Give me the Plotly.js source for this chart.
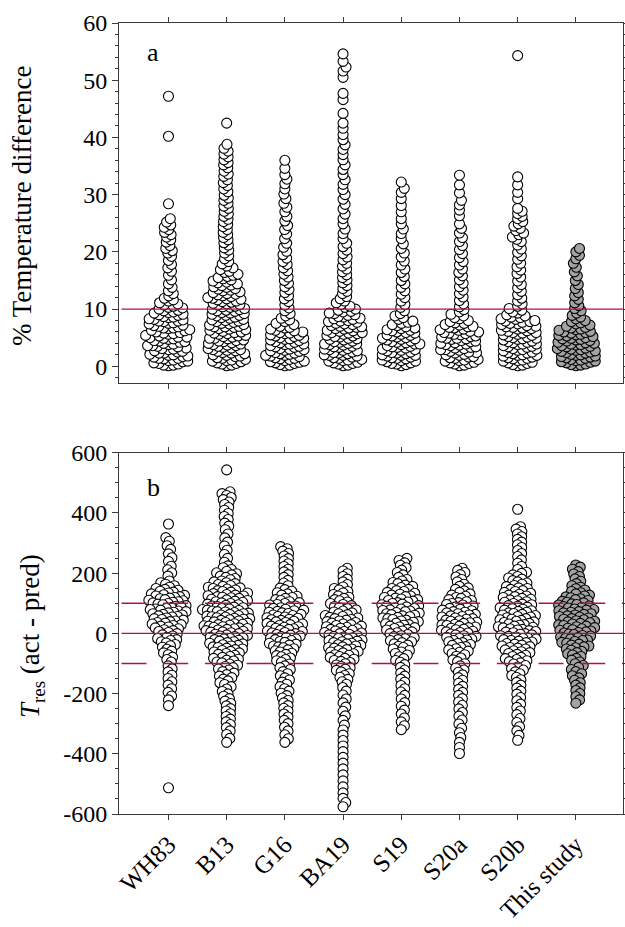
<!DOCTYPE html>
<html>
<head>
<meta charset="utf-8">
<script src="https://cdn.plot.ly/plotly-3.0.1.min.js"></script>
<style>html,body{margin:0;padding:0;background:#fff;}#chart{width:625px;height:927px;}</style>
</head>
<body>
<div id="chart"></div>
<script>
const categories = ["WH83","B13","G16","BA19","S19","S20a","S20b","This study"];

// Panel a: % temperature difference
const pct_WH83 = [0.1,0.2,0.2,0.4,0.5,0.6,0.8,0.9,1.0,1.1,1.3,1.4,1.4,1.6,1.7,1.8,1.9,2.0,2.1,2.3,2.3,2.5,2.6,2.7,2.9,3.0,3.1,3.2,3.4,3.5,3.6,3.6,3.8,3.9,4.0,4.2,4.3,4.4,4.5,4.7,4.8,4.9,5.0,5.1,5.1,5.3,5.4,5.6,5.7,5.8,5.9,6.0,6.2,6.3,6.4,6.6,6.7,6.7,6.9,7.0,7.1,7.2,7.4,7.5,7.6,7.8,7.9,7.9,8.1,8.2,8.3,8.5,8.6,8.7,8.9,9.0,9.1,9.3,9.4,9.5,9.7,9.8,10.0,10.2,10.3,10.5,10.7,10.9,11.1,11.4,11.6,11.9,12.3,12.7,13.2,13.8,14.4,15.1,15.9,16.6,17.2,17.8,18.5,19.2,19.8,20.2,20.6,21.1,21.7,22.1,22.6,23.0,23.4,23.9,24.3,24.7,25.2,25.8,28.4,40.2,47.2];
const pct_B13 = [0.1,0.2,0.4,0.5,0.6,0.8,0.9,1.0,1.1,1.2,1.4,1.5,1.7,1.8,1.9,2.0,2.2,2.3,2.4,2.6,2.7,2.8,2.9,2.9,3.1,3.2,3.3,3.5,3.6,3.7,3.8,3.9,4.0,4.1,4.3,4.4,4.5,4.6,4.8,4.9,4.9,5.1,5.2,5.3,5.4,5.6,5.7,5.8,5.9,6.0,6.1,6.3,6.4,6.5,6.6,6.8,6.9,6.9,7.0,7.2,7.3,7.4,7.5,7.7,7.8,7.9,8.0,8.1,8.2,8.4,8.5,8.6,8.8,8.9,8.9,9.1,9.2,9.3,9.4,9.6,9.7,9.8,9.9,10.0,10.1,10.3,10.4,10.5,10.7,10.8,10.9,11.0,11.2,11.3,11.4,11.6,11.7,11.8,11.9,12.0,12.2,12.3,12.5,12.6,12.7,12.9,13.0,13.2,13.3,13.5,13.6,13.8,13.9,14.1,14.2,14.4,14.6,14.7,14.9,15.1,15.3,15.5,15.7,15.9,16.1,16.4,16.6,16.9,17.2,17.5,17.9,18.3,18.8,19.3,19.8,20.3,20.7,21.2,21.6,22.1,22.5,23.0,23.4,23.9,24.4,24.8,25.3,25.7,26.2,26.6,27.1,27.6,28.0,28.5,29.0,29.4,29.9,30.5,31.0,31.6,32.1,32.6,33.2,33.6,34.1,34.7,35.2,35.6,36.1,36.6,37.1,37.6,38.1,38.8,42.5];
const pct_G16 = [0.1,0.2,0.3,0.5,0.6,0.7,0.8,0.9,1.0,1.2,1.3,1.4,1.5,1.7,1.8,1.9,1.9,2.1,2.2,2.3,2.4,2.6,2.7,2.8,2.9,3.0,3.1,3.3,3.4,3.5,3.6,3.8,3.9,3.9,4.1,4.2,4.3,4.5,4.6,4.7,4.8,4.9,5.0,5.2,5.3,5.4,5.5,5.7,5.8,5.9,6.0,6.2,6.3,6.5,6.7,6.8,7.0,7.3,7.5,7.8,8.1,8.4,8.8,9.2,9.7,10.2,10.7,11.3,11.8,12.3,12.9,13.4,13.9,14.5,15.0,15.6,16.1,16.7,17.2,17.8,18.3,18.9,19.5,20.1,20.8,21.5,22.3,23.1,23.9,24.6,25.4,26.2,27.0,27.8,28.5,29.3,30.1,31.0,31.9,32.7,33.5,34.6,36.0];
const pct_BA19 = [0.1,0.2,0.4,0.5,0.6,0.7,0.9,1.0,1.1,1.2,1.4,1.5,1.6,1.8,1.9,1.9,2.0,2.2,2.3,2.4,2.5,2.7,2.8,2.9,3.0,3.1,3.3,3.4,3.5,3.7,3.8,3.9,3.9,4.0,4.2,4.3,4.4,4.6,4.7,4.8,4.9,5.1,5.2,5.3,5.4,5.6,5.7,5.8,5.9,5.9,6.1,6.2,6.3,6.5,6.6,6.7,6.8,6.9,7.0,7.1,7.3,7.4,7.5,7.7,7.8,7.9,8.0,8.2,8.3,8.4,8.6,8.7,8.9,9.0,9.2,9.3,9.5,9.6,9.8,10.0,10.3,10.5,10.8,11.1,11.4,11.8,12.2,12.7,13.1,13.6,14.1,14.6,15.1,15.5,16.0,16.5,17.0,17.5,18.0,18.6,19.1,19.7,20.3,20.9,21.5,22.3,23.2,24.0,24.9,25.8,26.6,27.5,28.3,29.2,30.0,30.9,31.8,32.6,33.5,34.4,35.2,36.1,37.0,37.9,38.7,39.6,40.5,41.6,42.5,44.2,46.6,47.7,50.5,51.6,52.3,53.3,54.6];
const pct_S19 = [0.1,0.3,0.4,0.5,0.6,0.8,0.9,1.0,1.1,1.3,1.4,1.5,1.6,1.8,1.9,1.9,2.0,2.2,2.3,2.4,2.5,2.7,2.8,2.9,3.0,3.2,3.3,3.4,3.5,3.6,3.8,3.9,3.9,4.1,4.2,4.3,4.4,4.6,4.7,4.8,4.9,5.0,5.1,5.3,5.4,5.5,5.6,5.8,5.9,6.0,6.2,6.3,6.4,6.6,6.7,6.9,7.1,7.3,7.5,7.7,7.9,8.2,8.5,8.8,9.2,9.7,10.3,10.8,11.4,12.0,12.6,13.2,13.8,14.4,15.0,15.7,16.4,17.0,17.7,18.4,19.1,19.8,20.6,21.4,22.3,23.2,24.0,24.9,25.8,27.0,28.1,29.3,30.4,31.1,32.2];
const pct_S20a = [0.1,0.2,0.4,0.5,0.6,0.7,0.9,1.0,1.1,1.2,1.4,1.5,1.6,1.7,1.9,2.0,2.1,2.3,2.4,2.5,2.6,2.8,2.9,2.9,3.1,3.2,3.3,3.4,3.6,3.7,3.8,3.9,4.0,4.1,4.3,4.4,4.5,4.7,4.8,4.9,4.9,5.1,5.2,5.3,5.5,5.6,5.7,5.8,5.9,6.0,6.1,6.3,6.4,6.5,6.7,6.8,6.9,7.0,7.2,7.3,7.5,7.6,7.8,8.0,8.3,8.5,8.8,9.1,9.5,9.9,10.4,10.9,11.5,12.1,12.7,13.3,13.9,14.5,15.1,15.8,16.4,17.0,17.7,18.3,19.0,19.7,20.4,21.1,21.8,22.5,23.3,24.1,24.9,26.3,27.3,28.2,29.0,30.3,31.7,33.4];
const pct_S20b = [0.1,0.2,0.3,0.5,0.6,0.7,0.9,1.0,1.1,1.3,1.4,1.5,1.6,1.8,1.9,1.9,2.0,2.2,2.3,2.4,2.5,2.7,2.8,2.9,3.0,3.1,3.3,3.4,3.5,3.6,3.8,3.9,3.9,4.1,4.2,4.3,4.4,4.6,4.7,4.8,4.9,5.0,5.1,5.2,5.4,5.5,5.6,5.8,5.9,5.9,6.1,6.2,6.3,6.5,6.6,6.7,6.8,6.9,7.0,7.1,7.3,7.4,7.5,7.7,7.8,7.9,8.0,8.2,8.3,8.5,8.6,8.8,9.0,9.3,9.5,9.8,10.1,10.5,10.9,11.4,11.9,12.5,13.1,13.7,14.3,14.9,15.6,16.2,16.8,17.4,18.0,18.7,19.3,19.9,20.5,21.2,21.8,22.2,22.6,23.0,23.3,23.7,24.1,24.5,24.9,25.3,25.8,26.2,26.7,27.1,27.6,29.3,30.4,31.7,33.1,54.3];
const pct_This = [0.1,0.2,0.3,0.4,0.6,0.7,0.8,0.9,1.0,1.1,1.2,1.4,1.5,1.6,1.7,1.8,1.9,2.0,2.1,2.3,2.4,2.5,2.6,2.7,2.8,2.9,3.0,3.1,3.2,3.4,3.5,3.6,3.7,3.8,3.9,4.0,4.1,4.2,4.4,4.5,4.6,4.7,4.8,4.9,5.0,5.2,5.3,5.4,5.5,5.6,5.8,5.9,6.0,6.1,6.3,6.4,6.5,6.7,6.8,7.0,7.2,7.4,7.6,7.8,8.0,8.3,8.6,8.9,9.3,9.7,10.1,10.6,11.1,11.7,12.3,12.9,13.6,14.3,15.0,15.8,16.5,17.3,18.0,18.8,19.4,20.0,20.6];

// Panel b: T_res (act - pred)
const tres_WH83 = [363,318,306,291,279,264,251,239,223,211,201,190,174,168,163,158,153,149,146,143,140,137,134,131,128,126,124,122,119,117,115,112,110,108,105,103,101,99,97,95,92,90,88,86,83,81,79,77,74,72,70,68,65,63,61,58,56,54,51,49,46,44,41,39,36,34,31,29,26,24,21,18,15,12,9,6,3,-1,-5,-9,-13,-17,-21,-24,-28,-32,-37,-41,-46,-53,-59,-65,-71,-79,-87,-95,-108,-118,-128,-139,-150,-161,-172,-184,-196,-208,-221,-240,-513];
const tres_B13 = [543,470,464,458,451,444,436,428,418,409,398,388,378,366,356,344,330,317,303,290,276,262,249,236,224,218,212,206,201,198,194,190,186,182,178,174,171,168,165,162,159,156,153,151,149,147,144,142,139,137,134,132,129,127,125,124,122,120,118,116,113,111,109,107,105,103,101,99,97,95,93,91,89,87,85,83,81,79,77,76,74,72,71,69,67,65,63,61,59,57,55,54,52,50,49,47,45,43,41,40,38,36,34,32,30,29,27,25,24,22,20,18,16,15,13,11,9,7,5,4,2,-1,-3,-5,-7,-9,-11,-13,-15,-17,-19,-21,-23,-26,-28,-31,-33,-35,-38,-40,-42,-45,-47,-49,-52,-54,-57,-60,-62,-65,-67,-70,-73,-77,-80,-83,-86,-89,-92,-95,-98,-102,-106,-110,-114,-118,-122,-127,-132,-137,-142,-147,-152,-158,-164,-170,-177,-185,-193,-201,-209,-217,-225,-233,-241,-250,-258,-267,-276,-285,-294,-303,-313,-324,-336,-349,-362];
const tres_G16 = [288,281,273,265,257,248,240,231,222,213,204,195,186,176,167,158,150,145,140,135,131,127,123,119,116,112,109,105,102,99,96,94,91,88,85,83,80,77,75,73,70,68,66,63,61,59,56,54,52,50,47,45,43,40,38,36,33,31,29,27,24,22,20,17,15,13,10,8,6,3,1,-1,-4,-6,-9,-11,-14,-16,-19,-21,-24,-27,-30,-33,-36,-39,-42,-45,-48,-51,-55,-58,-62,-66,-70,-74,-78,-82,-87,-91,-96,-102,-108,-114,-120,-127,-134,-141,-148,-155,-162,-169,-177,-184,-192,-199,-207,-215,-223,-231,-240,-249,-258,-268,-278,-289,-300,-312,-324,-337,-350,-362];
const tres_BA19 = [216,207,198,189,180,171,162,154,149,144,139,134,129,124,120,116,112,108,104,99,96,92,89,85,82,78,74,71,68,65,62,59,56,53,51,49,46,44,41,39,36,34,31,29,26,24,22,20,17,15,13,10,8,6,3,1,-1,-3,-5,-8,-10,-12,-15,-17,-19,-22,-24,-26,-28,-31,-33,-35,-38,-40,-42,-45,-47,-49,-52,-54,-57,-60,-62,-65,-68,-71,-73,-77,-80,-83,-86,-90,-93,-97,-101,-105,-110,-114,-119,-123,-128,-134,-140,-146,-153,-161,-169,-180,-192,-205,-218,-231,-245,-259,-274,-289,-305,-321,-338,-356,-374,-393,-412,-431,-450,-470,-490,-510,-530,-548,-562,-576];
const tres_S19 = [249,242,234,226,218,210,202,194,186,179,174,169,165,160,156,152,149,146,142,139,136,133,130,127,124,122,119,117,114,112,109,107,104,102,99,97,95,92,90,88,85,83,81,78,76,74,72,69,67,65,62,60,58,55,53,51,49,46,44,41,39,37,34,32,29,27,24,21,19,16,13,11,8,5,2,-1,-4,-8,-11,-14,-18,-21,-24,-28,-31,-35,-39,-43,-47,-52,-57,-62,-67,-72,-78,-84,-90,-96,-104,-113,-122,-132,-142,-152,-162,-173,-184,-195,-206,-218,-230,-242,-255,-268,-281,-294,-307,-320];
const tres_S20a = [216,209,202,195,187,179,171,163,156,151,146,141,136,131,127,123,119,116,112,109,105,102,99,96,94,91,88,85,83,80,77,75,72,70,68,65,63,61,58,56,54,51,49,47,44,42,40,37,35,33,30,28,26,24,21,19,17,14,12,10,7,5,3,1,-2,-5,-8,-10,-13,-16,-19,-22,-24,-28,-31,-34,-37,-40,-44,-47,-51,-55,-59,-63,-67,-71,-76,-82,-88,-94,-101,-108,-115,-122,-129,-138,-147,-156,-166,-176,-186,-196,-206,-217,-228,-239,-251,-263,-275,-288,-301,-315,-330,-346,-362,-379,-399];
const tres_S20b = [412,354,346,338,330,321,312,303,294,285,275,265,255,244,233,222,212,203,199,194,189,184,180,175,171,167,163,159,155,151,149,146,142,139,136,133,130,127,124,122,119,116,113,111,108,105,103,99,97,95,92,90,87,85,82,80,77,75,73,70,68,66,63,61,59,56,54,52,49,47,45,43,40,38,36,33,31,29,27,24,22,20,18,15,13,11,9,6,4,2,-1,-3,-5,-8,-10,-12,-15,-17,-19,-21,-24,-26,-29,-31,-34,-36,-39,-42,-44,-47,-49,-52,-55,-58,-61,-64,-67,-70,-73,-77,-80,-84,-87,-91,-94,-98,-102,-107,-112,-117,-122,-128,-134,-140,-146,-154,-163,-172,-182,-192,-202,-213,-224,-235,-246,-258,-270,-283,-296,-310,-324,-339,-355];
const tres_This = [227,220,213,205,197,189,181,173,165,158,153,148,144,139,135,131,127,124,121,118,115,112,109,106,103,101,98,96,94,91,89,86,84,81,79,77,75,72,70,68,65,63,61,58,56,54,51,49,47,45,42,40,38,35,33,31,28,26,24,22,19,17,15,12,10,8,5,3,1,-2,-4,-7,-9,-12,-14,-17,-19,-22,-24,-27,-30,-33,-36,-39,-42,-45,-48,-52,-56,-60,-64,-68,-72,-77,-83,-89,-95,-101,-107,-113,-120,-127,-134,-141,-148,-156,-164,-172,-181,-190,-200,-210,-221,-232];

const pctTickVals = [0,10,20,30,40,50,60];
const pctTickText = ["0","10","20","30","40","50","60"];
const tresTickVals = [-600,-400,-200,0,200,400,600];
const tresTickText = ["-600","-400","-200","0","200","400","600"];
const pctThreshold = 10;
const tresLines = [-100, 0, 100];

const pctData = [pct_WH83,pct_B13,pct_G16,pct_BA19,pct_S19,pct_S20a,pct_S20b,pct_This];
const tresData = [tres_WH83,tres_B13,tres_G16,tres_BA19,tres_S19,tres_S20a,tres_S20b,tres_This];

// ---- layout geometry ----
const W = 625, H = 927;
const M = {l:119, r:2, t:23, b:113};
const plotH = H - M.t - M.b;
const domA = [0.5443, 1], domB = [0, 0.4568];
const xRange = [-0.85, 7.81];
const yRangeA = [-3, 60], yRangeB = [-600, 600];
const pxPerCat = (W - M.l - M.r) / (xRange[1] - xRange[0]);
const pxPerA = (domA[1]-domA[0]) * plotH / (yRangeA[1]-yRangeA[0]);
const pxPerB = (domB[1]-domB[0]) * plotH / (yRangeB[1]-yRangeB[0]);
const SW = 5.0; // swarm collision distance in px

function swarm(vals, pxPerUnit, d) {
  const idx = vals.map((v,i)=>i).sort((a,b)=>vals[a]-vals[b]);
  const placed = [];
  const out = new Array(vals.length).fill(0);
  for (const i of idx) {
    const y = vals[i]*pxPerUnit;
    const nb = placed.filter(p => Math.abs(p.y - y) < d);
    const cands = [0];
    nb.forEach(p => { const dx = Math.sqrt(d*d - (p.y-y)*(p.y-y)); cands.push(p.x+dx, p.x-dx); });
    cands.sort((a,b)=>Math.abs(a)-Math.abs(b));
    let chosen = cands[cands.length-1];
    for (const c of cands) {
      if (nb.every(p => (p.x-c)*(p.x-c) + (p.y-y)*(p.y-y) >= d*d - 1e-6)) { chosen = c; break; }
    }
    placed.push({x:chosen, y:y});
    out[i] = chosen;
  }
  return out;
}

const traces = [];
function addPanel(data, pxPerUnit, xa, ya) {
  data.forEach((vals, ci) => {
    const off = swarm(vals, pxPerUnit, SW);
    const gray = ci === categories.length - 1;
    traces.push({
      type:'scatter', mode:'markers', xaxis:xa, yaxis:ya,
      x: off.map(o => ci + o/pxPerCat), y: vals,
      marker:{size:10, color: gray ? '#a3a3a3' : '#ffffff', line:{color:'#000000', width:1.1}},
      hoverinfo:'skip', cliponaxis:false
    });
  });
}
addPanel(pctData, pxPerA, 'x', 'y');
addPanel(tresData, pxPerB, 'x2', 'y2');

const FONT = "'Liberation Serif', 'Times New Roman', serif";
const frameCol = '#3a3a3a';
const catIdx = categories.map((c,i)=>i);
function xAxis(anchor, labels) {
  return {domain:[0,1], anchor:anchor, range:xRange, tickmode:'array', tickvals:catIdx,
    ticktext: categories, showticklabels: labels, tickangle: -45,
    tickfont:{family:FONT, size:25, color:'#000'},
    ticks:'outside', ticklen:5, tickwidth:1, tickcolor:frameCol,
    showline:true, linecolor:frameCol, linewidth:1, mirror:'ticks',
    showgrid:false, zeroline:false, fixedrange:true};
}
function yAxis(dom, anchor, range, tv, tt, minorD, minor0) {
  return {domain:dom, anchor:anchor, range:range, tickmode:'array', tickvals:tv, ticktext:tt,
    tickfont:{family:FONT, size:24, color:'#000'},
    ticks:'outside', ticklen:6, tickwidth:1, tickcolor:frameCol,
    minor:{tickmode:'linear', tick0:minor0, dtick:minorD, ticks:'outside', ticklen:3.5, tickwidth:1, tickcolor:frameCol, showgrid:false},
    showline:true, linecolor:frameCol, linewidth:1, mirror:'ticks',
    showgrid:false, zeroline:false, fixedrange:true};
}

const red = '#b3123d';
const shapes = [
  {type:'line', xref:'paper', yref:'y', x0:0.005, x1:1, y0:pctThreshold, y1:pctThreshold, line:{color:red, width:1.4}, layer:'above'}
];
tresLines.forEach(v => shapes.push({type:'line', xref:'paper', yref:'y2', x0:0.005, x1:1, y0:v, y1:v,
  line:{color:red, width:1.4, dash: v === 0 ? 'solid' : '25px,16.7px'}, layer:'above'}));

function px2paperX(px){ return (px - M.l)/(W - M.l - M.r); }
function px2paperY(py){ return (H - M.b - py)/plotH; }

const annotations = [
  {text:'% Temperature difference', xref:'paper', yref:'paper', x:px2paperX(22), y:px2paperY(206), textangle:-90,
   showarrow:false, xanchor:'center', yanchor:'middle', font:{family:FONT, size:27, color:'#000'}},
  {text:'<i>T</i><sub>res</sub> (act - pred)', xref:'paper', yref:'paper', x:px2paperX(32), y:px2paperY(636), textangle:-90,
   showarrow:false, xanchor:'center', yanchor:'middle', font:{family:FONT, size:27, color:'#000'}},
  {text:'a', xref:'paper', yref:'paper', x:px2paperX(153), y:px2paperY(52), showarrow:false, xanchor:'center', yanchor:'middle', font:{family:FONT, size:26, color:'#000'}},
  {text:'b', xref:'paper', yref:'paper', x:px2paperX(153), y:px2paperY(487), showarrow:false, xanchor:'center', yanchor:'middle', font:{family:FONT, size:26, color:'#000'}}
];

const layout = {
  width:W, height:H, margin:M, paper_bgcolor:'#ffffff', plot_bgcolor:'#ffffff', showlegend:false,
  font:{family:FONT, size:24, color:'#000'},
  xaxis: xAxis('y', false),
  yaxis: yAxis(domA, 'x', yRangeA, pctTickVals, pctTickText, 2, 0),
  xaxis2: xAxis('y2', true),
  yaxis2: yAxis(domB, 'x2', yRangeB, tresTickVals, tresTickText, 50, -600),
  shapes:shapes, annotations:annotations
};
Plotly.newPlot('chart', traces, layout, {staticPlot:true, displayModeBar:false});
</script>
</body>
</html>
